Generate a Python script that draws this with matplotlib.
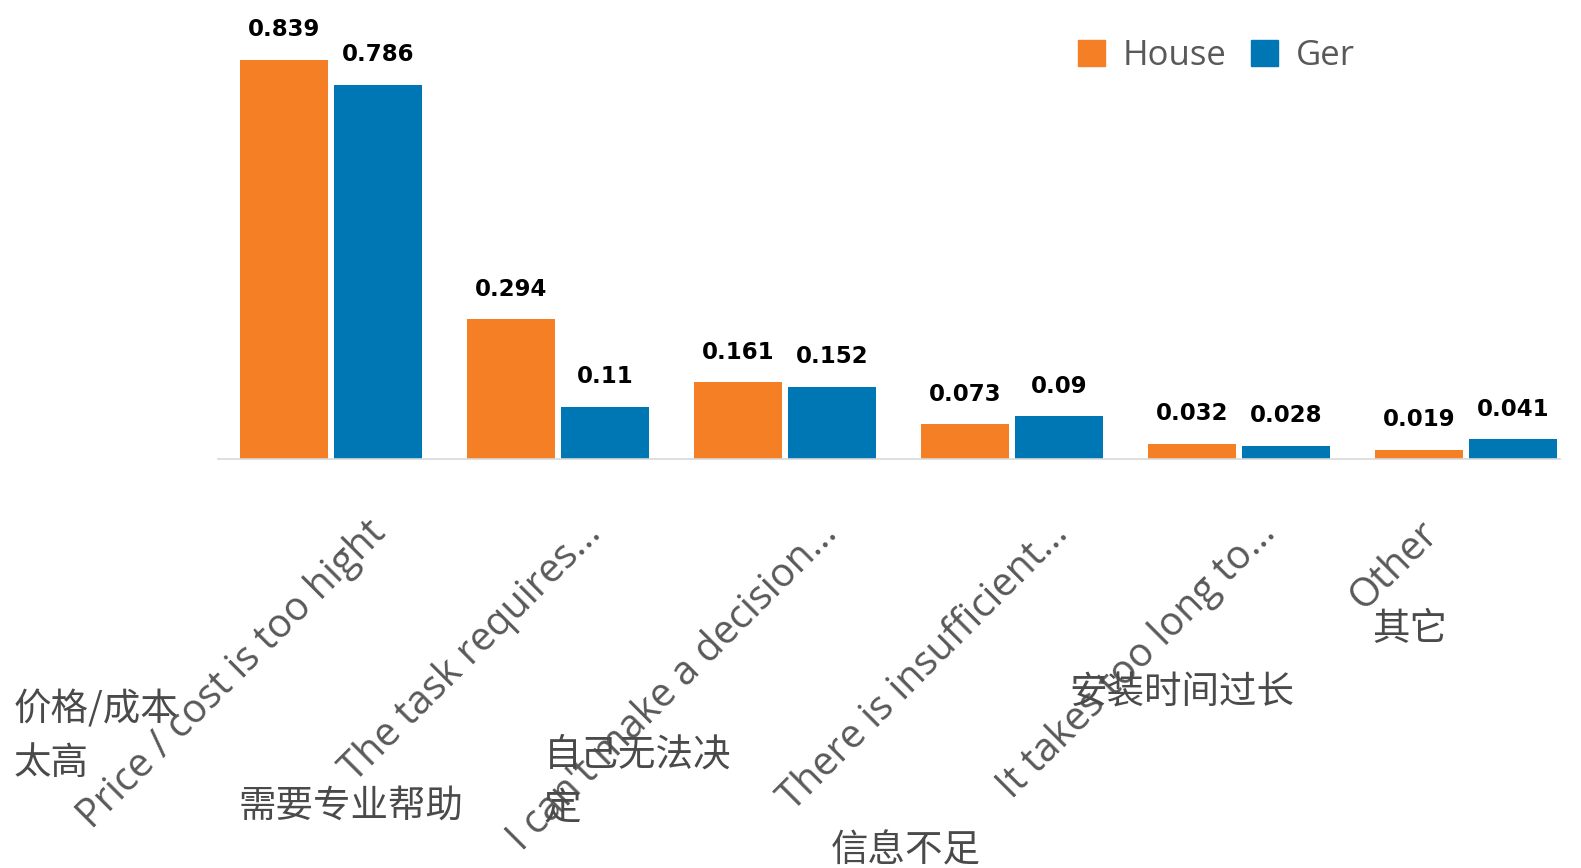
import numpy as np
import matplotlib
matplotlib.use("Agg")
import matplotlib.pyplot as plt
import matplotlib.transforms as mtransforms
from matplotlib.patches import Patch

# Data
categories = [
    "Price / cost is too hight",
    "The task requires...",
    "I can't make a decision...",
    "There is insufficient...",
    "It takes too long to...",
    "Other",
]
categories_cn = ["价格/成本\n太高", "需要专业帮助", "自己无法决\n定", "信息不足", "安装时间过长", "其它"]
house = [0.839, 0.294, 0.161, 0.073, 0.032, 0.019]
ger = [0.786, 0.11, 0.152, 0.09, 0.028, 0.041]

# Layout tweaks (pixels): label end shifts, Chinese text left / last-line baseline
label_shift_px = [56, 45, 54, 58, 38, -26]
cn_pos_px = [(14, 774), (239, 817), (544, 819), (831, 862), (1069, 704), (1372, 640)]

W, H = 1581, 868
orange = "#F47F24"
blue = "#0077B5"
gray = "#595959"

fig = plt.figure(figsize=(W / 100, H / 100), dpi=100)
ax = fig.add_axes([218 / W, 1 - 459 / H, (1560 - 218) / W, 459 / H])

x = np.arange(len(categories))
bw = 88 / 227
off = 47 / 227
b1 = ax.bar(x - off, house, bw, color=orange)
b2 = ax.bar(x + off, ger, bw, color=blue)

for bars, vals in ((b1, house), (b2, ger)):
    for rect, v in zip(bars, vals):
        ax.annotate(f"{v:g}", (rect.get_x() + rect.get_width() / 2, v),
                    xytext=(0, 17), textcoords="offset points",
                    ha="center", va="baseline", fontsize=16.5,
                    fontweight="bold", family="DejaVu Sans", color="black")

ax.set_xlim((218 - 331) / 227, (1560 - 331) / 227)
ax.set_ylim(0, 459 / 475.7)
for s in ["top", "right", "left"]:
    ax.spines[s].set_visible(False)
ax.spines["bottom"].set_color("#d9d9d9")
ax.spines["bottom"].set_linewidth(1.2)
ax.set_yticks([])
ax.set_xticks([])

trans = mtransforms.blended_transform_factory(ax.transData, ax.transAxes)
for i, lab in enumerate(categories):
    ax.text(i + label_shift_px[i] / 227, -76 / 459, lab, transform=trans,
            rotation=45, rotation_mode="anchor", ha="right", va="baseline",
            fontsize=28.5, family="Open Sans", color=gray, clip_on=False)

for (px, py), lab in zip(cn_pos_px, categories_cn):
    fig.text(px / W, 1 - py / H, lab, ha="left", va="baseline", fontsize=27,
             family=["Noto Sans CJK SC", "DejaVu Sans"], color="#4a4a4a",
             linespacing=1.48)

handles = [Patch(color=orange, label="House"), Patch(color=blue, label="Ger")]
leg = fig.legend(handles=handles, loc="upper left",
                 bbox_to_anchor=(1078 / W, 1 - 39 / H), ncol=2, frameon=False,
                 prop={"family": "Open Sans", "size": 25},
                 handlelength=0.78, handleheight=0.78, handletextpad=0.5,
                 columnspacing=0.72, borderaxespad=0, borderpad=0)
for t in leg.get_texts():
    t.set_color(gray)

fig.savefig("out.png", dpi=100)
